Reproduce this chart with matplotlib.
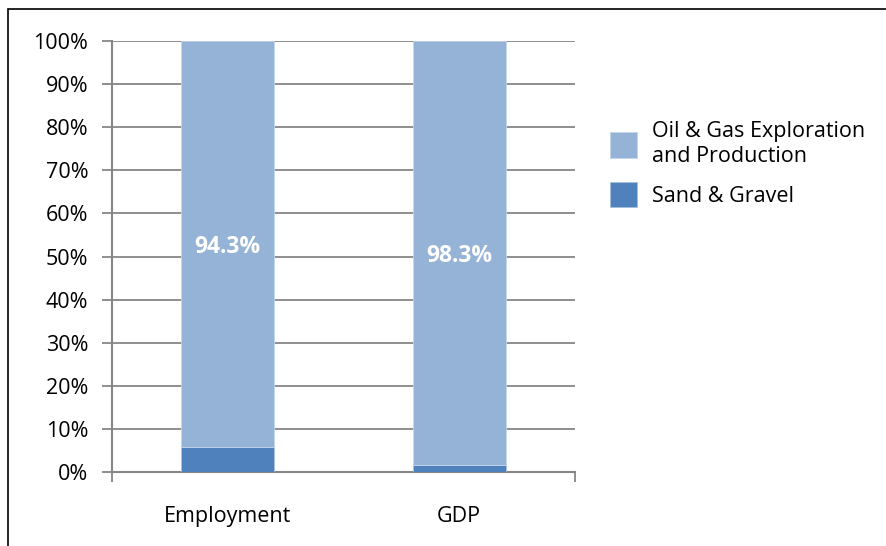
import matplotlib
matplotlib.use("Agg")
import matplotlib.pyplot as plt
from matplotlib.patches import Rectangle

categories = ["Employment", "GDP"]
sand_gravel = [5.7, 1.7]
oil_gas = [94.3, 98.3]
oil_labels = ["94.3%", "98.3%"]
yticks = [0, 10, 20, 30, 40, 50, 60, 70, 80, 90, 100]
series_names = ["Oil & Gas Exploration\nand Production", "Sand & Gravel"]

plt.rcParams['font.family'] = ['Open Sans', 'DejaVu Sans']

fig = plt.figure(figsize=(8.86, 5.46), dpi=100)
ax = fig.add_axes([112/886, 1-472/546, (575-112)/886, (472-41)/546])

light = "#95B3D7"
dark = "#4F81BD"
grid_c = "#868686"

x = list(range(len(categories)))
b1 = ax.bar(x, sand_gravel, width=0.4, color=dark, edgecolor="#A7BFDE", linewidth=0.6, zorder=3)
b2 = ax.bar(x, oil_gas, width=0.4, bottom=sand_gravel, color=light, edgecolor="#C5D5EA", linewidth=0.6, zorder=3)

for i in x:
    ax.text(i, sand_gravel[i] + oil_gas[i] / 2, oil_labels[i], color="white",
            fontweight="bold", fontsize=16.5, ha="center", va="center_baseline", zorder=4)

ax.set_xlim(-0.5, 1.5)
ax.set_ylim(0, 100)
ax.set_yticks(yticks)
ax.set_yticklabels([f"{t}%" for t in yticks], fontsize=15.5)
ax.yaxis.grid(True, color=grid_c, linewidth=1.3, zorder=0)
ax.set_axisbelow(True)

ax.set_xticks([-0.5, 1.5])
ax.set_xticklabels(["", ""])
ax.tick_params(axis="x", length=7, width=1.3, color=grid_c, direction="out")
ax.tick_params(axis="y", length=7, width=1.3, color=grid_c, direction="out", pad=10)
for i, c in enumerate(categories):
    ax.text(i, -8.0, c, ha="center", va="top", fontsize=15.5, transform=ax.transData)

for s in ["top", "right"]:
    ax.spines[s].set_visible(False)
for s in ["left", "bottom"]:
    ax.spines[s].set_color(grid_c)
    ax.spines[s].set_linewidth(1.5)

# figure border (top and left visible)
fig.add_artist(Rectangle((8/886, -0.05), 1.2, 1.05 - 9/546, transform=fig.transFigure,
                         fill=False, edgecolor="black", linewidth=1.2))

leg = fig.legend([b2, b1], series_names, loc="upper left",
                 bbox_to_anchor=(591/886, 1 - 102/546), frameon=False,
                 fontsize=15.5, handlelength=1.25, handleheight=1.45,
                 labelspacing=0.7, handletextpad=0.7)

fig.savefig("out.png", dpi=100)
